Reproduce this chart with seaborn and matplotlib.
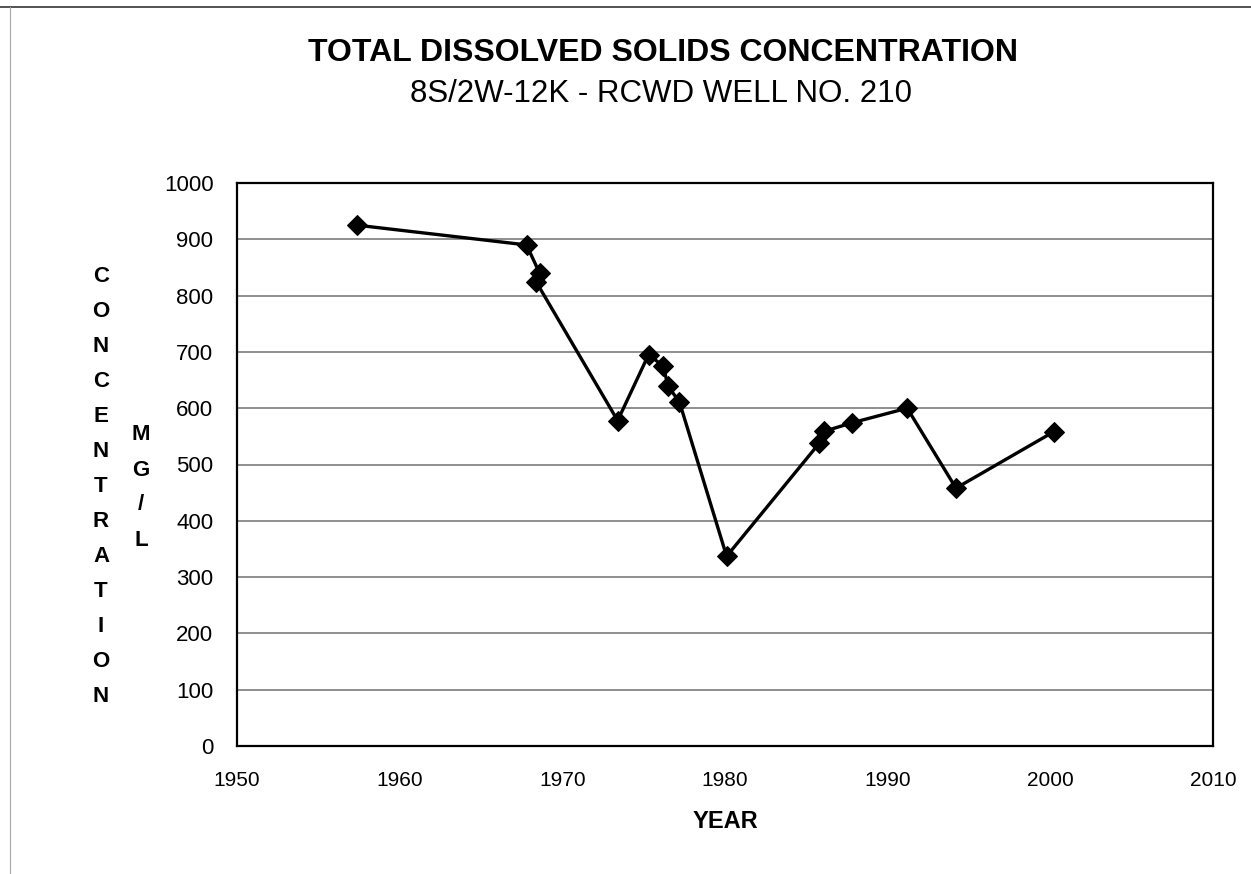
import matplotlib
matplotlib.use("Agg")
import matplotlib.pyplot as plt
import seaborn as sns
import pandas as pd

years = [1957.4, 1967.8, 1968.6, 1968.4, 1973.4, 1975.3, 1976.2, 1976.5, 1977.2,
         1980.1, 1985.8, 1986.1, 1987.8, 1991.2, 1994.2, 2000.2]
tds = [925, 890, 840, 824, 578, 695, 675, 639, 611,
       337, 538, 559, 574, 600, 458, 558]
x_ticks = [1950, 1960, 1970, 1980, 1990, 2000, 2010]
y_ticks = [0, 100, 200, 300, 400, 500, 600, 700, 800, 900, 1000]

sns.set_theme(style="white")
plt.rcParams['font.family'] = ['Liberation Sans', 'DejaVu Sans']
plt.rcParams['text.color'] = 'black'
plt.rcParams['xtick.color'] = 'black'
plt.rcParams['ytick.color'] = 'black'
plt.rcParams['axes.labelcolor'] = 'black'

df = pd.DataFrame({"year": years, "tds": tds})

W, H = 1251, 874
fig = plt.figure(figsize=(W / 100, H / 100), dpi=100)
fig.patch.set_facecolor("white")
ax = fig.add_axes([237 / W, 1 - 746 / H, (1213 - 237) / W, (746 - 183) / H])

sns.lineplot(data=df, x="year", y="tds", sort=False, ax=ax, color="black",
             linewidth=2.4, marker="D", markersize=10, markeredgecolor="black",
             markerfacecolor="black", estimator=None)

ax.set_xlim(1950, 2010)
ax.set_ylim(0, 1000)
ax.set_xticks(x_ticks)
ax.set_yticks(y_ticks)
ax.set_xticklabels([str(t) for t in x_ticks], fontsize=15)
ax.set_yticklabels([str(t) for t in y_ticks], fontsize=16)
ax.tick_params(axis="x", length=0, pad=18)
ax.tick_params(axis="y", length=0, pad=17)
ax.yaxis.grid(True, color="#707070", linewidth=1.1)
ax.xaxis.grid(False)
for s in ax.spines.values():
    s.set_color("black")
    s.set_linewidth(1.6)

ax.set_xlabel("YEAR", fontsize=17, fontweight="bold")
ax.xaxis.set_label_coords((725 - 237) / 976, -(822 - 746) / 563)
ax.xaxis.label.set_va("center")
ax.set_ylabel("")

fig.text(663 / W, 1 - 53 / H, "TOTAL DISSOLVED SOLIDS CONCENTRATION", ha="center",
         va="center", fontsize=23, fontweight="bold")
fig.text(661 / W, 1 - 94 / H, "8S/2W-12K - RCWD WELL NO. 210", ha="center",
         va="center", fontsize=22.5)

for i, ch in enumerate("CONCENTRATION"):
    fig.text(101 / W, 1 - (276 + i * 35.08) / H, ch, ha="center", va="center",
             fontsize=16, fontweight="bold")
for i, ch in enumerate("MG/L"):
    fig.text(141 / W, 1 - (435 + i * 35) / H, ch, ha="center", va="center",
             fontsize=16, fontweight="bold")

# page frame lines
fig.add_artist(plt.Line2D([0.0, 1.0], [1 - 7 / H, 1 - 7 / H], color="#444444", linewidth=1.3,
                          transform=fig.transFigure))
fig.add_artist(plt.Line2D([10 / W, 10 / W], [0.0, 1 - 7 / H], color="#aaaaaa", linewidth=0.8,
                          transform=fig.transFigure))

fig.savefig("out.png", dpi=100)
